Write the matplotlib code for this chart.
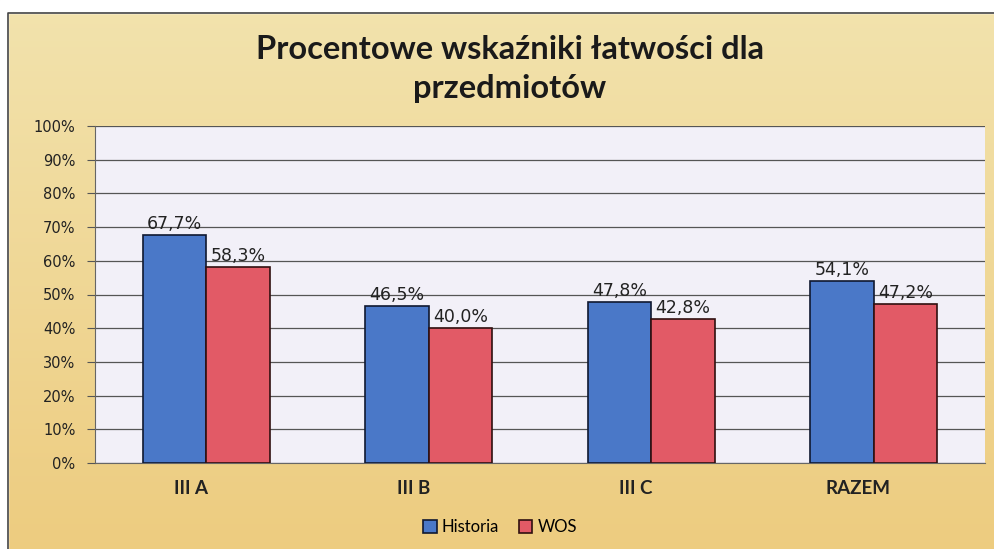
import numpy as np
import matplotlib
matplotlib.use("Agg")
from matplotlib import pyplot as plt
from matplotlib.patches import Rectangle

categories = ["III A", "III B", "III C", "RAZEM"]
historia = [67.7, 46.5, 47.8, 54.1]
wos = [58.3, 40.0, 42.8, 47.2]
series_names = ["Historia", "WOS"]
yticks = list(range(0, 101, 10))

blue = "#4a78c8"
red = "#e25a66"

fig = plt.figure(figsize=(9.94, 5.49), dpi=100)

# gold background gradient
bg = fig.add_axes([0, 0, 1, 1])
grad = np.linspace(0, 1, 256).reshape(-1, 1)
top = np.array([0.95, 0.89, 0.68])
bot = np.array([0.93, 0.80, 0.50])
img = top[None, None, :] * (1 - grad[:, :, None]) + bot[None, None, :] * grad[:, :, None]
bg.imshow(img, aspect="auto", extent=[0, 1, 0, 1])
# white margin above/left of the frame
bg.add_patch(Rectangle((0, 1 - 13 / 549), 1, 13 / 549, color="white", zorder=2))
bg.add_patch(Rectangle((0, 0), 8 / 994, 1, color="white", zorder=2))
bg.plot([8 / 994, 8 / 994, 1], [0, 1 - 13 / 549, 1 - 13 / 549], color="#444444", lw=1.2, zorder=3)
bg.set_xlim(0, 1)
bg.set_ylim(0, 1)
bg.axis("off")

ax = fig.add_axes([95 / 994, 1 - 463 / 549, 890 / 994, (463 - 126) / 549])
ax.set_facecolor("#f2f0f8")

x = np.arange(len(categories))
w = 0.285
b1 = ax.bar(x - w / 2, historia, w, color=blue, edgecolor="#101830", lw=1.2, zorder=3, label=series_names[0])
b2 = ax.bar(x + w / 2, wos, w, color=red, edgecolor="#301010", lw=1.2, zorder=3, label=series_names[1])

for rects, vals in ((b1, historia), (b2, wos)):
    for r, v in zip(rects, vals):
        ax.text(r.get_x() + r.get_width() / 2, v + 0.6, ("%.1f%%" % v).replace(".", ","),
                ha="center", va="bottom", fontsize=12.5, color="#222222", zorder=4)

ax.set_xlim(-0.5, len(categories) - 0.5)
ax.set_ylim(0, 100)
ax.set_yticks(yticks)
ax.set_yticklabels(["%d%%" % t for t in yticks], fontsize=10.5, color="#222222")
# category labels sit a bit left of the group centres in the original
ax.set_xticks(x - 0.07)
ax.set_xticklabels(categories, fontsize=13.5, fontweight="bold", family="Lato", color="#222222")
ax.tick_params(axis="x", length=0, pad=12)
ax.tick_params(axis="y", length=6, color="#555555", pad=8)
ax.yaxis.grid(True, color="#555555", lw=0.9, zorder=1)
for s in ["top", "right"]:
    ax.spines[s].set_visible(False)
ax.spines["left"].set_color("#666666")
ax.spines["bottom"].set_color("#666666")

fig.text(0.513, 1 - 69 / 549, "Procentowe wskaźniki łatwości dla\nprzedmiotów", ha="center", va="center",
         fontsize=23.5, fontweight="bold", family="Lato", color="#1a1a1a", linespacing=1.4)

fig.legend(handles=[b1, b2], labels=series_names, loc="center", bbox_to_anchor=(0.503, 1 - 527 / 549),
           ncol=2, frameon=False, handlelength=0.8, handleheight=0.8, handletextpad=0.3,
           columnspacing=1.2, prop={"family": "Lato", "size": 12})

fig.savefig("out.png", dpi=100)
